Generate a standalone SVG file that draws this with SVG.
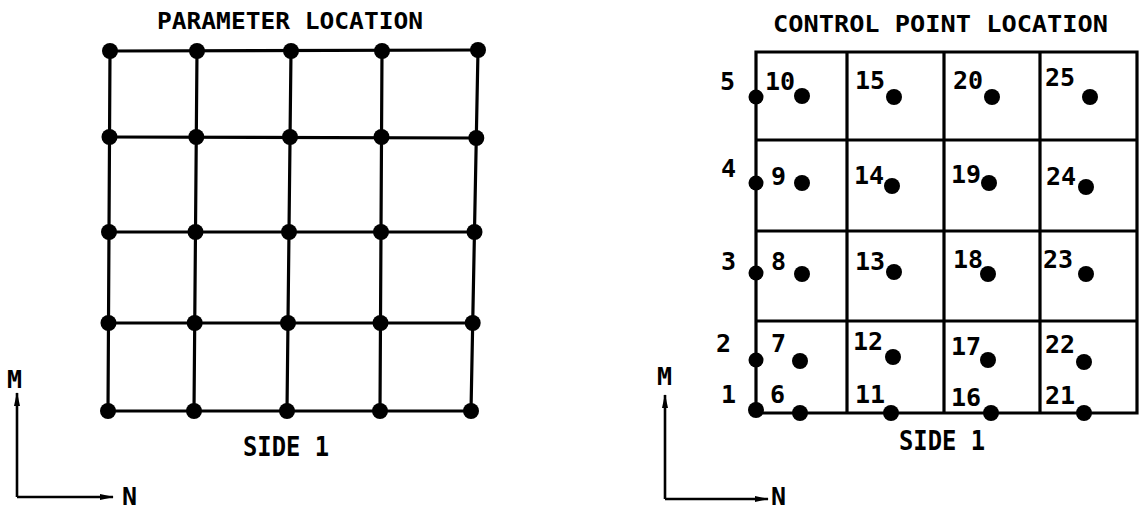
<svg xmlns="http://www.w3.org/2000/svg" width="1143" height="511" viewBox="0 0 1143 511">
<style>
.ln{stroke:#000;stroke-width:3.2;fill:none;stroke-linecap:square}
.ax{stroke:#000;stroke-width:2.6;fill:none}
.dot{fill:#000}
.t{font-family:"DejaVu Sans Mono","Liberation Mono",monospace;fill:#000;font-weight:bold}
.ttl{font-size:23px}
.num{font-size:25px}
</style>
<defs>
<marker id="ah" viewBox="0 0 14 6" refX="13" refY="3" markerWidth="14" markerHeight="6" markerUnits="userSpaceOnUse" orient="auto">
<path d="M0,0 L14,3 L0,6 Z" fill="#000"/>
</marker>
</defs>
<rect width="1143" height="511" fill="#fff"/>

<g id="titles" class="t ttl">
<text x="157" y="29" textLength="266" lengthAdjust="spacingAndGlyphs">PARAMETER LOCATION</text>
<text x="773" y="32" textLength="335" lengthAdjust="spacingAndGlyphs">CONTROL POINT LOCATION</text>
<text x="243" y="456" textLength="86" lengthAdjust="spacingAndGlyphs" style="font-size:26px">SIDE 1</text>
<text x="899" y="450" textLength="86" lengthAdjust="spacingAndGlyphs" style="font-size:26px">SIDE 1</text>
</g>

<g id="connectors">
<g id="left-grid">
<path class="ln" d="M110,51 L478,50 M109.5,137 L476.3,138 M109,232 L474.5,232 M108.5,323 L472.7,323 M108,411 L471,411"/>
<path class="ln" d="M110,51 L108,411 M197,51 L194,411 M291,51 L287,411 M382,51 L380,411 M478,50 L471,411"/>
</g>
<g id="right-grid">
<path class="ln" d="M756,52 H1137 V413 H756 Z M756,140 H1137 M756,231 H1137 M756,321 H1137 M847,52 V413 M944,52 V413 M1040,52 V413"/>
</g>
<g id="axes">
<path class="ax" d="M17,497 V393" marker-end="url(#ah)"/>
<path class="ax" d="M17,497 H113" marker-end="url(#ah)"/>
<path class="ax" d="M665,499 V395" marker-end="url(#ah)"/>
<path class="ax" d="M665,499 H768" marker-end="url(#ah)"/>
</g>
</g>

<g id="parameter-points" class="dot">
<circle cx="110" cy="51" r="8"/><circle cx="197" cy="51" r="8"/><circle cx="291" cy="51" r="8"/><circle cx="382" cy="51" r="8"/><circle cx="478" cy="50" r="8"/>
<circle cx="109.5" cy="137" r="8"/><circle cx="196.3" cy="137" r="8"/><circle cx="290" cy="137" r="8"/><circle cx="381.5" cy="137" r="8"/><circle cx="476.3" cy="138" r="8"/>
<circle cx="109" cy="232" r="8"/><circle cx="195.5" cy="232" r="8"/><circle cx="289" cy="232" r="8"/><circle cx="381" cy="232" r="8"/><circle cx="474.5" cy="232" r="8"/>
<circle cx="108.5" cy="323" r="8"/><circle cx="194.7" cy="323" r="8"/><circle cx="288" cy="323" r="8"/><circle cx="380.5" cy="323" r="8"/><circle cx="472.7" cy="323" r="8"/>
<circle cx="108" cy="411" r="8"/><circle cx="194" cy="411" r="8"/><circle cx="287" cy="411" r="8"/><circle cx="380" cy="411" r="8"/><circle cx="471" cy="411" r="8"/>
</g>

<g id="edge-points">
<g id="p1"><circle class="dot" cx="756" cy="410" r="8"/><text class="t num" x="721" y="403">1</text></g>
<g id="p2"><circle class="dot" cx="756" cy="360" r="7.5"/><text class="t num" x="716" y="352">2</text></g>
<g id="p3"><circle class="dot" cx="756" cy="273" r="7.5"/><text class="t num" x="721" y="270">3</text></g>
<g id="p4"><circle class="dot" cx="756" cy="183" r="7.5"/><text class="t num" x="721" y="177">4</text></g>
<g id="p5"><circle class="dot" cx="756" cy="97" r="7.5"/><text class="t num" x="720" y="90">5</text></g>
</g>

<g id="control-points">
<g id="p6"><circle class="dot" cx="800" cy="413" r="8"/><text class="t num" x="770" y="403">6</text></g>
<g id="p7"><circle class="dot" cx="800" cy="361" r="8"/><text class="t num" x="771" y="352">7</text></g>
<g id="p8"><circle class="dot" cx="802" cy="274" r="8"/><text class="t num" x="771" y="270">8</text></g>
<g id="p9"><circle class="dot" cx="802" cy="183" r="8"/><text class="t num" x="771" y="185">9</text></g>
<g id="p10"><circle class="dot" cx="802" cy="96" r="8"/><text class="t num" x="765" y="90">10</text></g>
<g id="p11"><circle class="dot" cx="891" cy="413" r="8"/><text class="t num" x="855" y="403">11</text></g>
<g id="p12"><circle class="dot" cx="893" cy="357" r="8"/><text class="t num" x="853" y="350">12</text></g>
<g id="p13"><circle class="dot" cx="894" cy="272" r="8"/><text class="t num" x="855" y="270">13</text></g>
<g id="p14"><circle class="dot" cx="892" cy="186" r="8"/><text class="t num" x="854" y="184">14</text></g>
<g id="p15"><circle class="dot" cx="894" cy="97" r="8"/><text class="t num" x="855" y="89">15</text></g>
<g id="p16"><circle class="dot" cx="991" cy="413" r="8"/><text class="t num" x="951" y="406">16</text></g>
<g id="p17"><circle class="dot" cx="988" cy="360" r="8"/><text class="t num" x="951" y="355">17</text></g>
<g id="p18"><circle class="dot" cx="988" cy="274" r="8"/><text class="t num" x="953" y="268">18</text></g>
<g id="p19"><circle class="dot" cx="989" cy="183" r="8"/><text class="t num" x="951" y="183">19</text></g>
<g id="p20"><circle class="dot" cx="992" cy="97" r="8"/><text class="t num" x="953" y="89">20</text></g>
<g id="p21"><circle class="dot" cx="1084" cy="413" r="8"/><text class="t num" x="1045" y="404">21</text></g>
<g id="p22"><circle class="dot" cx="1084" cy="362" r="8"/><text class="t num" x="1045" y="353">22</text></g>
<g id="p23"><circle class="dot" cx="1086" cy="274" r="8"/><text class="t num" x="1043" y="268">23</text></g>
<g id="p24"><circle class="dot" cx="1086" cy="187" r="8"/><text class="t num" x="1046" y="185">24</text></g>
<g id="p25"><circle class="dot" cx="1090" cy="97" r="8"/><text class="t num" x="1045" y="86">25</text></g>
</g>

<g id="axis-labels" class="t num">
<text x="7" y="388">M</text>
<text x="122" y="505">N</text>
<text x="657" y="385">M</text>
<text x="771" y="505">N</text>
</g>
</svg>
